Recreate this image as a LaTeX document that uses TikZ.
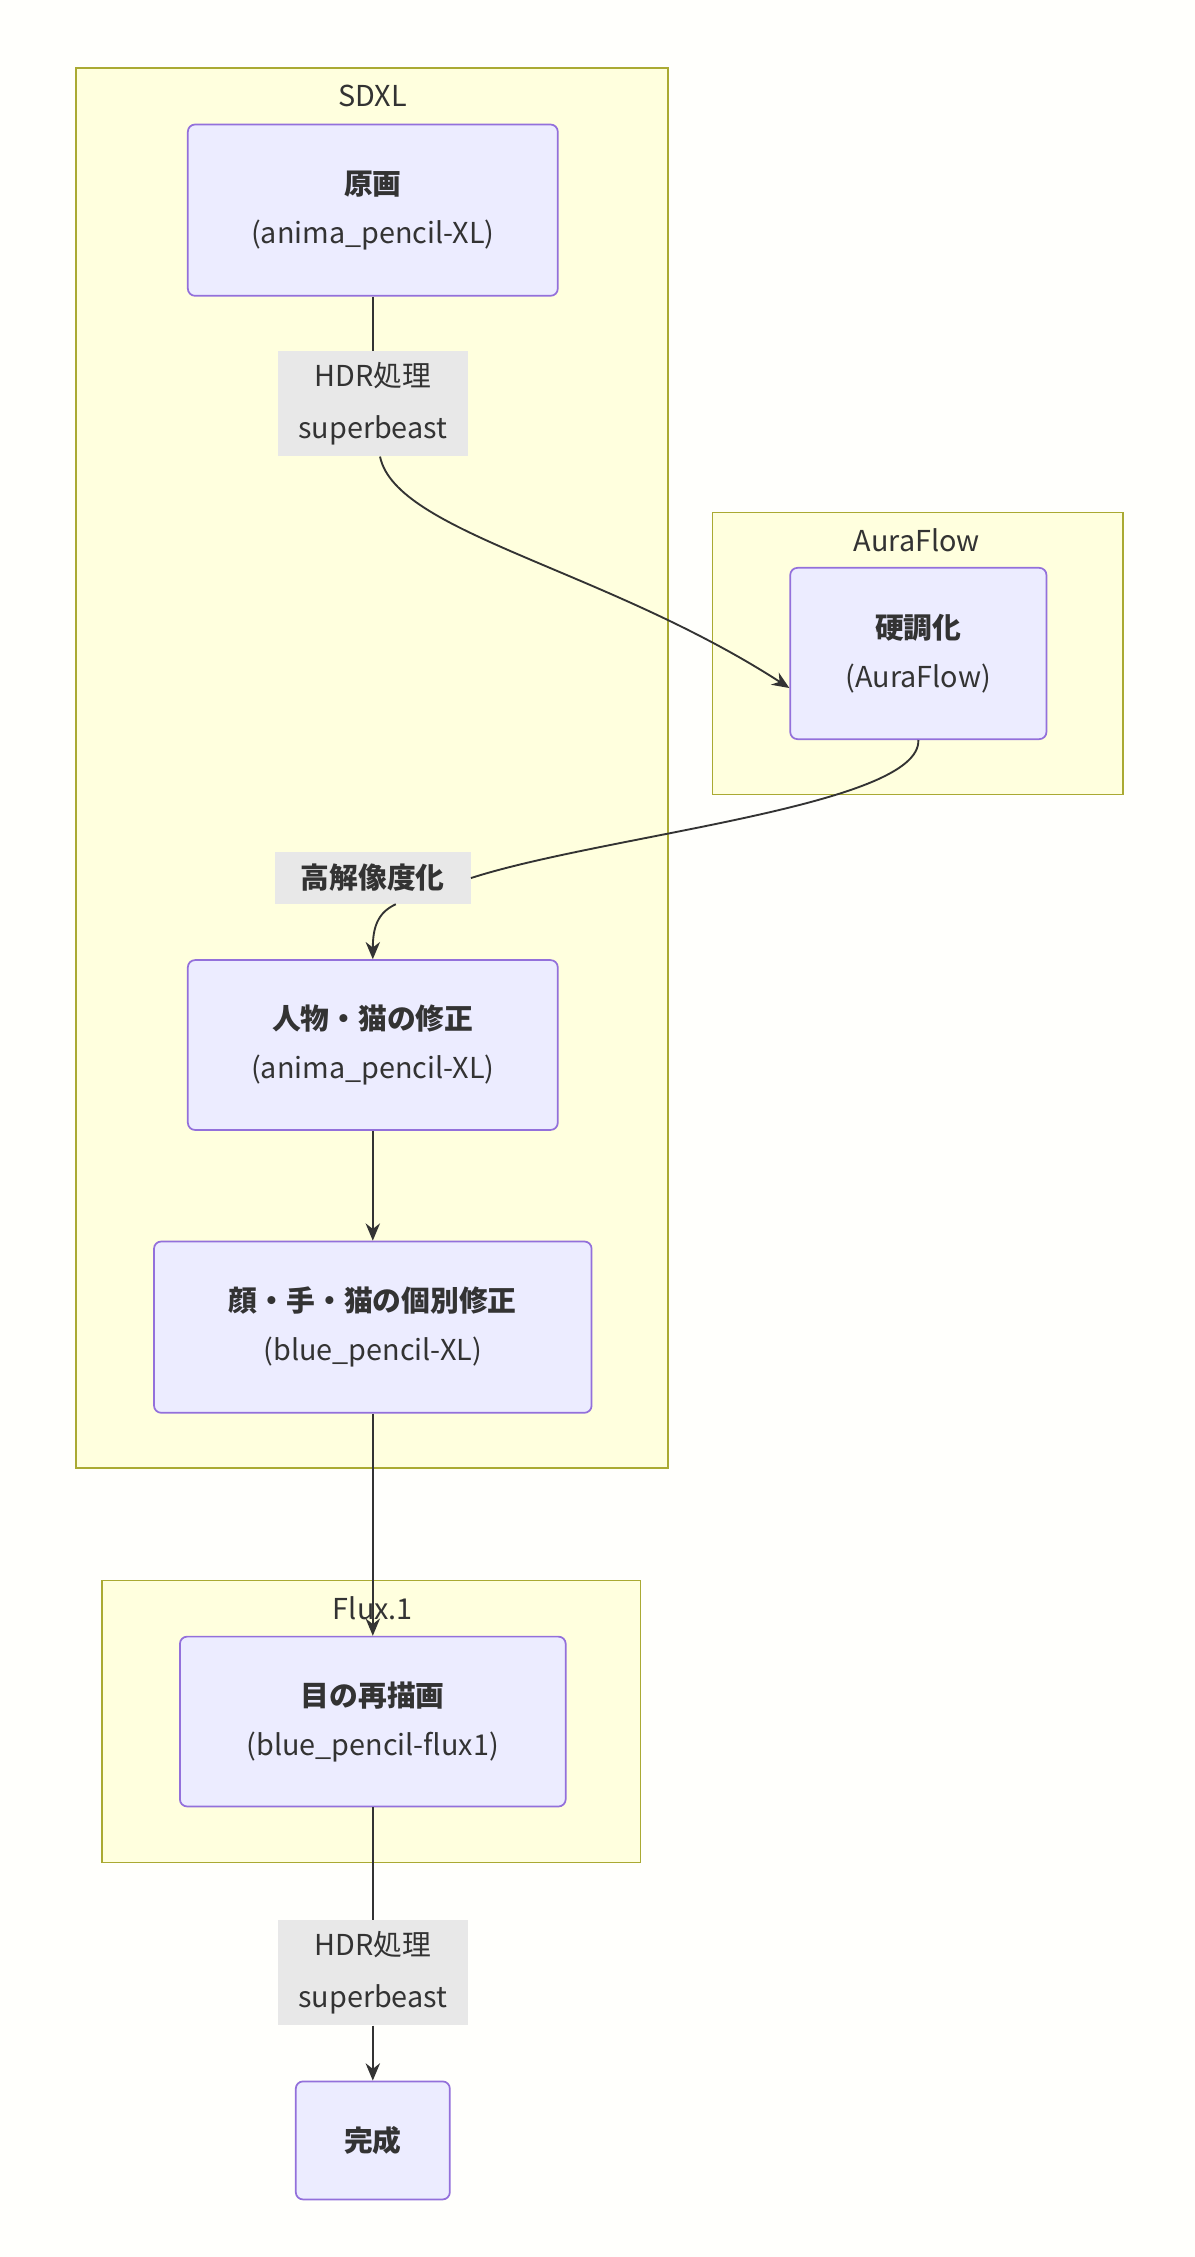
\documentclass[tikz,border=0pt]{standalone}
\usepackage{fontspec}
\setmainfont{Noto Sans CJK JP}
\usetikzlibrary{arrows.meta}
\definecolor{clf}{HTML}{FFFFDE}\definecolor{cls}{HTML}{AAAA33}
\definecolor{ndf}{HTML}{ECECFF}\definecolor{nds}{HTML}{9370DB}
\definecolor{lbf}{HTML}{E8E8E8}\definecolor{ln}{HTML}{333333}
\begin{document}
\begin{tikzpicture}[x=1pt,y=-1pt,
 cl/.style={draw=cls,fill=clf,line width=1.2pt},
 cltxt/.style={font=\fontsize{20}{24}\selectfont,text=ln},
 nd/.style={draw=nds,fill=ndf,line width=1.2pt,rounded corners=5pt,align=center,text=ln,font=\fontsize{20}{34}\selectfont,inner sep=0pt},
 lb/.style={fill=lbf,align=center,text=ln,font=\fontsize{20}{36}\selectfont,inner sep=0pt},
 ed/.style={draw=ln,line width=1.3pt},
 ar/.style={ed,-{Stealth[length=12pt,width=10pt]}}]
\useasboundingbox[fill=white!99!yellow] (0,0) rectangle (830,1568);
\draw[cl] (53,47) rectangle (464,1020);
\node[cltxt] (t1) at (259,67) {SDXL};
\draw[cl] (495,356) rectangle (780,552);
\node[cltxt] (t2) at (637,375) {AuraFlow};
\draw[cl] (71,1098) rectangle (445,1294);
\node[cltxt] (t3) at (259,1117) {Flux.1};
\node[nd,minimum width=257pt,minimum height=119pt] (A) at (259,146) {\textbf{原画}\\(anima\_pencil-XL)};
\node[nd,minimum width=178pt,minimum height=119pt] (B) at (638,454) {\textbf{硬調化}\\(AuraFlow)};
\node[nd,minimum width=257pt,minimum height=118pt] (C) at (259,726) {\textbf{人物・猫の修正}\\(anima\_pencil-XL)};
\node[nd,minimum width=304pt,minimum height=119pt] (D) at (259,922) {\textbf{顔・手・猫の個別修正}\\(blue\_pencil-XL)};
\node[nd,minimum width=268pt,minimum height=118pt] (E) at (259,1196) {\textbf{目の再描画}\\(blue\_pencil-flux1)};
\node[nd,minimum width=107pt,minimum height=82pt] (F) at (259,1487) {\textbf{完成}};
\node[lb,minimum width=132pt,minimum height=73pt] (L1) at (259,280.5) {HDR処理\\superbeast};
\node[lb,minimum width=136pt,minimum height=36pt] (L2) at (259,610) {\textbf{高解像度化}};
\node[lb,minimum width=132pt,minimum height=73pt] (L3) at (259,1370.5) {HDR処理\\superbeast};
\draw[ed] (A.south) -- (L1.north);
\draw[ar] ([xshift=5pt]L1.south) .. controls (275,370) and (420,395) .. ([yshift=-24pt]B.west);
\draw[ed] (B.south) .. controls (640,560) and (420,580) .. (L2.east);
\draw[ar] ([xshift=16pt]L2.south) .. controls (262,634) and (259,645) .. (C.north);
\draw[ar] (C.south) -- (D.north);
\draw[ar] (D.south) -- (E.north);
\draw[ed] (E.south) -- (L3.north);
\draw[ar] (L3.south) -- (F.north);
\end{tikzpicture}
\end{document}
